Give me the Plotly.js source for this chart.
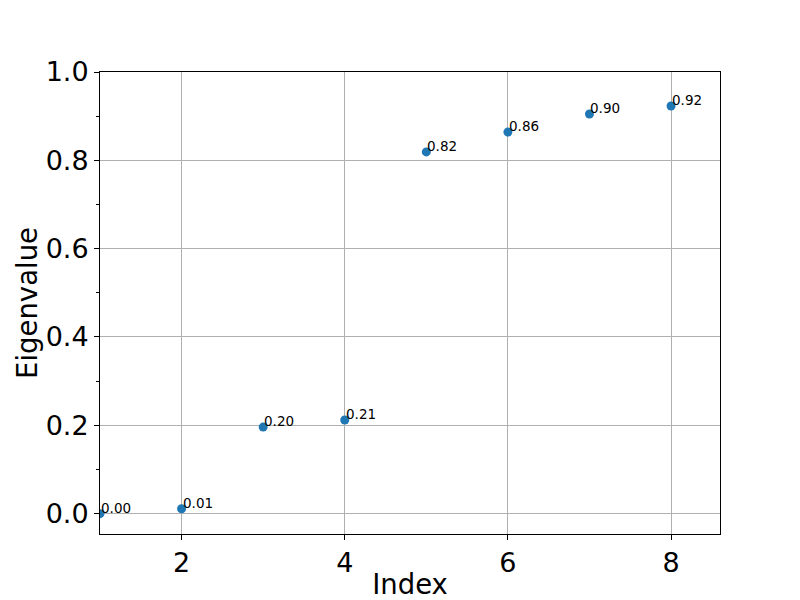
<!DOCTYPE html>
<html>
<head>
<meta charset="utf-8">
<script src="https://cdn.plot.ly/plotly-3.0.1.min.js"></script>
<style>html,body{margin:0;padding:0;background:#fff;}#chart{width:800px;height:600px;}</style>
</head>
<body>
<div id="chart"></div>
<script>
const indices = [1, 2, 3, 4, 5, 6, 7, 8];
const eigenvalues = [0.000, 0.011, 0.196, 0.212, 0.819, 0.864, 0.905, 0.923];
const labels = ["0.00", "0.01", "0.20", "0.21", "0.82", "0.86", "0.90", "0.92"];
const xTicks = [2, 4, 6, 8];
const yTicks = [0, 0.2, 0.4, 0.6, 0.8, 1.0];
const yTickText = ["0.0", "0.2", "0.4", "0.6", "0.8", "1.0"];

const font = "DejaVu Sans, sans-serif";

const trace = {
  x: indices,
  y: eigenvalues,
  mode: "markers",
  type: "scatter",
  marker: {color: "#1f77b4", size: 9},
  cliponaxis: true,
  hoverinfo: "none"
};

const annotations = indices.map((xv, i) => ({
  x: xv, y: eigenvalues[i], xref: "x", yref: "y",
  text: labels[i], showarrow: false,
  xanchor: "left", yanchor: "bottom",
  xshift: -1, yshift: -4,
  font: {family: font, size: 13.5, color: "#000"}
}));

const axisCommon = {
  showline: true, linecolor: "#000", linewidth: 1, mirror: true,
  ticks: "outside", ticklen: 5, tickwidth: 1, tickcolor: "#000",
  showgrid: true, gridcolor: "#b0b0b0", gridwidth: 1,
  zeroline: false,
  tickfont: {family: font, size: 27, color: "#000"}
};

const layout = {
  width: 800, height: 600,
  paper_bgcolor: "#fff", plot_bgcolor: "#fff",
  margin: {l: 100, r: 80, t: 72, b: 66},
  showlegend: false,
  xaxis: Object.assign({}, axisCommon, {
    range: [1, 8.6],
    tickmode: "array", tickvals: xTicks, ticktext: xTicks.map(String),
    title: {text: "Index", font: {family: font, size: 27.5, color: "#000"}, standoff: 12}
  }),
  yaxis: Object.assign({}, axisCommon, {
    range: [-0.0461, 1.0],
    tickmode: "array", tickvals: yTicks, ticktext: yTickText,
    minor: {dtick: 0.1, tick0: 0, ticks: "outside", ticklen: 3, tickcolor: "#000", showgrid: false},
    title: {text: "Eigenvalue", font: {family: font, size: 27.5, color: "#000"}, standoff: 0}
  }),
  annotations: annotations
};

Plotly.newPlot("chart", [trace], layout, {displayModeBar: false, staticPlot: true});
</script>
</body>
</html>
